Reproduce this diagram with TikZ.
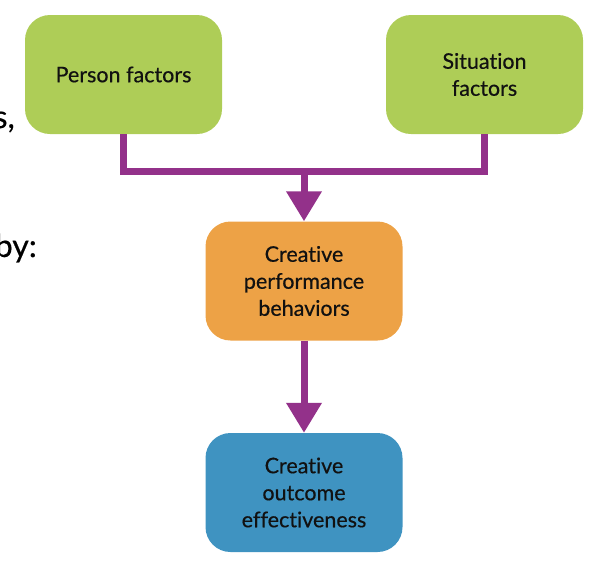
\documentclass[tikz,border=0pt]{standalone}
\usepackage{fontspec}
\setmainfont{Lato}
\newfontfamily\medfont{Lato}[FakeBold=0.5,Ligatures={NoCommon,NoRare}]
\usetikzlibrary{arrows.meta}
\definecolor{boxgreen}{HTML}{AECD57}
\definecolor{boxorange}{HTML}{EDA246}
\definecolor{boxblue}{HTML}{3F93C1}
\definecolor{connpurple}{HTML}{93318A}
\definecolor{txt}{HTML}{111111}
\begin{document}
\begin{tikzpicture}[x=1pt,y=-1pt,
  boxnode/.style={rounded corners=25pt, minimum width=197pt, minimum height=119pt,
    inner sep=0pt, align=center, text=txt,
    font=\medfont\fontsize{21.5}{27}\selectfont},
  conn/.style={draw=connpurple, line width=7pt, line join=miter},
  arr/.style={conn, -{Triangle[length=30pt,width=34pt]}},
  frag/.style={anchor=base east, inner sep=0pt, text=black,
    font=\medfont\fontsize{32}{36}\selectfont}]
\useasboundingbox (0,0) rectangle (596,566);
\node[boxnode, fill=boxgreen] (p) at (123.5,74.5) {Person factors};
\node[boxnode, fill=boxgreen] (s) at (484.5,74.5) {Situation\\factors};
\node[boxnode, fill=boxorange] (o) at (304,281) {Creative\\performance\\behaviors};
\node[boxnode, fill=boxblue] (b) at (304,492.5) {Creative\\outcome\\effectiveness};
\coordinate (m) at (304,171);
\draw[conn] (p.south) |- (m) -| (s.south);
\draw[arr] (m) -- (o.north);
\draw[arr] (o.south) -- (b.north);
\node[frag] (f1) at (15,128) {s,};
\node[frag] (f2) at (37,257) {by:};
\end{tikzpicture}
\end{document}
